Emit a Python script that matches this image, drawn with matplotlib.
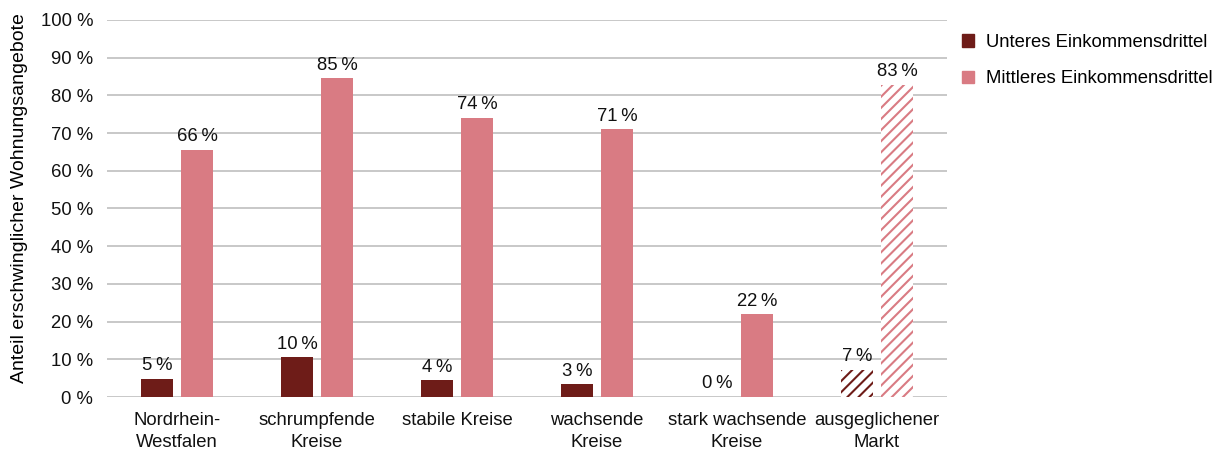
import matplotlib
matplotlib.use("Agg")
import matplotlib.pyplot as plt
import numpy as np
from matplotlib.patches import Patch

categories = ["Nordrhein-\nWestfalen", "schrumpfende\nKreise", "stabile Kreise",
              "wachsende\nKreise", "stark wachsende\nKreise", "ausgeglichener\nMarkt"]
unteres = [4.8, 10.5, 4.4, 3.4, 0.0, 7.2]
mittleres = [65.6, 84.6, 74.0, 71.0, 22.0, 82.8]
hatched = [False, False, False, False, False, True]
series_names = ["Unteres Einkommensdrittel", "Mittleres Einkommensdrittel"]
yticks = [0, 10, 20, 30, 40, 50, 60, 70, 80, 90, 100]

dark = "#6e1c18"
pink = "#d97b83"
FS = 13.3

plt.rcParams['font.family'] = ['Liberation Sans', 'DejaVu Sans']
plt.rcParams['hatch.linewidth'] = 1.5

fig = plt.figure(figsize=(12.2, 4.51), dpi=100)
ax = fig.add_axes([0.0877, 0.1197, 0.6885, 0.836])

x = np.arange(len(categories))
w = 0.228
gap = 0.058
off = (w + gap) / 2

for i in range(len(categories)):
    for vals, col, sgn in ((unteres, dark, -1), (mittleres, pink, 1)):
        if hatched[i]:
            ax.bar(x[i] + sgn * off, vals[i], w, facecolor="white", edgecolor=col,
                   hatch="///", linewidth=0, zorder=3)
        else:
            ax.bar(x[i] + sgn * off, vals[i], w, color=col, linewidth=0, zorder=3)
        ax.text(x[i] + sgn * off, vals[i] + 1.2, f"{round(vals[i]):d}\u2009%",
                ha="center", va="bottom", fontsize=FS, color="#111111")

handles = [Patch(color=dark), Patch(color=pink)]
ax.legend(handles, series_names, loc="upper left", bbox_to_anchor=(1.003, 0.997),
          frameon=False, fontsize=FS, handlelength=0.65, handleheight=0.65,
          handletextpad=0.6, labelspacing=1.05, borderaxespad=0.3)

ax.set_xlim(-0.5, len(categories) - 0.5)
ax.set_ylim(0, 100)
ax.set_yticks(yticks)
ax.set_yticklabels([f"{t} %" for t in yticks], fontsize=FS)
ax.set_xticks(x)
ax.set_xticklabels(categories, fontsize=FS, linespacing=1.4)
ax.tick_params(axis="both", length=0, colors="#111111")
ax.tick_params(axis="y", pad=10)
ax.tick_params(axis="x", pad=11)
ax.yaxis.grid(True, color="#bfbfbf", linewidth=1.2, zorder=0)
ax.set_axisbelow(True)
for s in ax.spines.values():
    s.set_visible(False)
ax.set_ylabel("Anteil erschwinglicher Wohnungsangebote", fontsize=14)
ax.yaxis.set_label_coords(-0.094, 0.528)

fig.savefig("out.png", dpi=100)
